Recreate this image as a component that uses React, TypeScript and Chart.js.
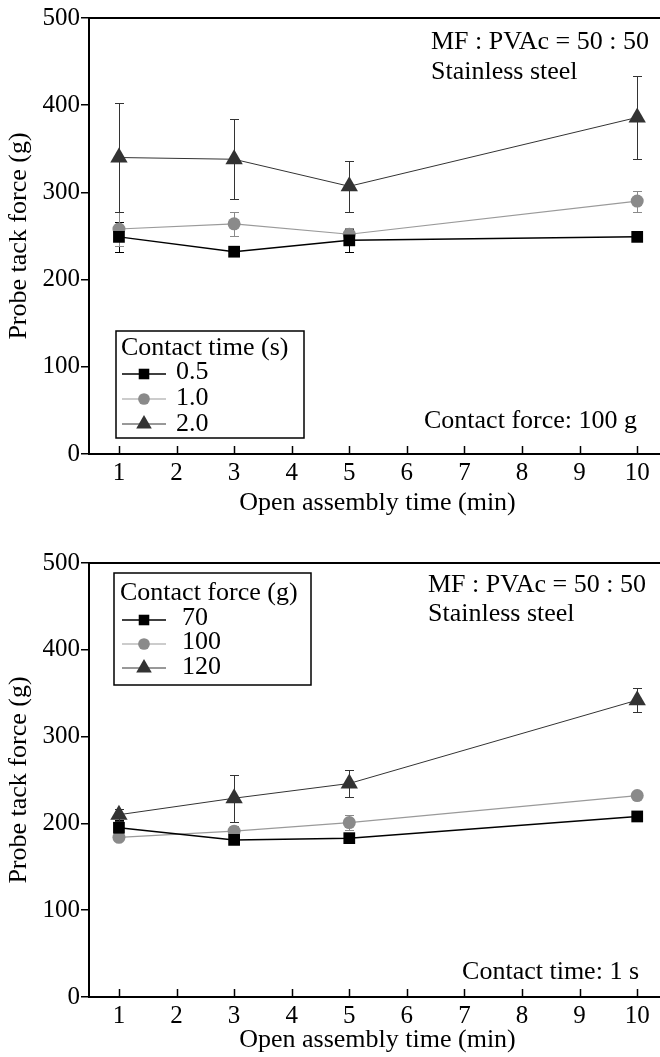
import React, { useEffect, useRef } from "react";
import { Chart, registerables } from "chart.js";

Chart.register(...registerables);

// ---------- data ----------
const openTime = [1, 3, 5, 10];
const xTicks = [1, 2, 3, 4, 5, 6, 7, 8, 9, 10];
const yTicks = [0, 100, 200, 300, 400, 500];

// Top panel: contact time series (contact force 100 g)
const ct05 = [249, 232, 245, 249];
const ct05Err = [17, 0, 13, 0];
const ct10 = [258, 264, 252, 290];
const ct10Err = [19, 14, 7, 12];
const ct20 = [340, 338, 307, 386];
const ct20Err = [63, 46, 29, 48];

// Bottom panel: contact force series (contact time 1 s)
const cf70 = [195, 181, 183, 208];
const cf70Err = [9, 3, 0, 0];
const cf100 = [184, 191, 201, 232];
const cf100Err = [3, 6, 9, 0];
const cf120 = [210, 229, 246, 342];
const cf120Err = [7, 27, 16, 14];

const topLabels = ["0.5", "1.0", "2.0"];
const bottomLabels = ["70", "100", "120"];

const FONT = "'Liberation Serif', 'Times New Roman', serif";

type Style = { color: string; line: string; lw: number; ps: string; r: number };
const styles: Style[] = [
  { color: "#000000", line: "#000000", lw: 1.5, ps: "rect", r: 8.3 },
  { color: "#8a8a8a", line: "#9a9a9a", lw: 1.2, ps: "circle", r: 6.5 },
  { color: "#333333", line: "#333333", lw: 1, ps: "triangle", r: 10 },
];

function drawMarker(ctx: CanvasRenderingContext2D, ps: string, x: number, y: number, r: number, color: string) {
  ctx.save();
  ctx.fillStyle = color;
  ctx.beginPath();
  if (ps === "rect") {
    const s = Math.SQRT1_2 * r;
    ctx.rect(x - s, y - s, 2 * s, 2 * s);
  } else if (ps === "circle") {
    ctx.arc(x, y, r, 0, Math.PI * 2);
  } else {
    const a = (2 * Math.PI) / 3;
    ctx.moveTo(x, y - r);
    ctx.lineTo(x + Math.sin(a) * r, y - Math.cos(a) * r);
    ctx.lineTo(x + Math.sin(2 * a) * r, y - Math.cos(2 * a) * r);
    ctx.closePath();
  }
  ctx.fill();
  ctx.restore();
}

const decorPlugin = {
  id: "decor",
  beforeDatasetsDraw(chart: any) {
    const ctx = chart.ctx as CanvasRenderingContext2D;
    const xs = chart.scales.x;
    const ys = chart.scales.y;
    chart.data.datasets.forEach((ds: any) => {
      const errs: number[] = ds.errors || [];
      ctx.save();
      ctx.strokeStyle = ds.errColor;
      ctx.lineWidth = 1;
      ds.data.forEach((p: any, i: number) => {
        const e = errs[i];
        if (!e) return;
        const px = Math.round(xs.getPixelForValue(p.x)) + 0.5;
        const yHi = Math.round(ys.getPixelForValue(p.y + e)) + 0.5;
        const yLo = Math.round(ys.getPixelForValue(p.y - e)) + 0.5;
        ctx.beginPath();
        ctx.moveTo(px, yHi);
        ctx.lineTo(px, yLo);
        ctx.moveTo(px - 4.5, yHi);
        ctx.lineTo(px + 4.5, yHi);
        ctx.moveTo(px - 4.5, yLo);
        ctx.lineTo(px + 4.5, yLo);
        ctx.stroke();
      });
      ctx.restore();
    });
  },
  afterDraw(chart: any, _a: any, opts: any) {
    const ctx = chart.ctx as CanvasRenderingContext2D;
    const area = chart.chartArea;
    const xs = chart.scales.x;
    ctx.save();
    // top frame line
    ctx.strokeStyle = "#000";
    ctx.lineWidth = 2;
    ctx.beginPath();
    ctx.moveTo(area.left - 1, area.top);
    ctx.lineTo(area.right + 1, area.top);
    ctx.stroke();
    // inward x ticks
    ctx.lineWidth = 1.5;
    ctx.beginPath();
    xTicks.forEach((v) => {
      const px = Math.round(xs.getPixelForValue(v)) + 0.5;
      ctx.moveTo(px, area.bottom);
      ctx.lineTo(px, area.bottom - 8);
    });
    ctx.stroke();
    // annotations
    ctx.fillStyle = "#000";
    ctx.font = `26px ${FONT}`;
    ctx.textBaseline = "middle";
    (opts.notes || []).forEach((n: any) => {
      ctx.textAlign = n.align;
      ctx.fillText(n.text, n.x, n.y);
    });
    // legend
    const lg = opts.legend;
    if (lg) {
      ctx.lineWidth = 1.5;
      ctx.strokeStyle = "#000";
      ctx.strokeRect(lg.x1, lg.y1, lg.x2 - lg.x1, lg.y2 - lg.y1);
      ctx.textAlign = "left";
      ctx.fillText(lg.title, lg.titleX, lg.titleY);
      chart.data.datasets.forEach((ds: any, i: number) => {
        const y = lg.itemY[i];
        ctx.save();
        ctx.strokeStyle = ds.borderColor;
        ctx.lineWidth = ds.borderWidth;
        ctx.beginPath();
        ctx.moveTo(lg.lineX1, y);
        ctx.lineTo(lg.lineX2, y);
        ctx.stroke();
        ctx.restore();
        drawMarker(ctx, ds.pointStyle, (lg.lineX1 + lg.lineX2) / 2, y, ds.pointRadius * 0.9, ds.pointBackgroundColor);
        ctx.fillStyle = "#000";
        ctx.fillText(ds.label, lg.textX, lg.textY[i]);
      });
    }
    ctx.restore();
  },
};

type PanelProps = {
  height: number;
  areaTop: number;
  areaBottom: number;
  series: number[][];
  errors: number[][];
  labels: string[];
  notes: any[];
  legend: any;
};

const CW = 676;

function Panel(p: PanelProps) {
  const ref = useRef<HTMLCanvasElement | null>(null);
  useEffect(() => {
    if (!ref.current) return;
    const datasets = p.series.map((vals, i) => {
      const s = styles[i];
      return {
        label: p.labels[i],
        data: vals.map((v, j) => ({ x: openTime[j], y: v })),
        errors: p.errors[i],
        errColor: s.color,
        borderColor: s.line,
        borderWidth: s.lw,
        pointStyle: s.ps,
        pointRadius: s.r,
        pointBackgroundColor: s.color,
        pointBorderColor: s.color,
        pointBorderWidth: 0,
        showLine: true,
        tension: 0,
      };
    });
    const padBottom = 1;
    const chart = new Chart(ref.current, {
      type: "scatter",
      data: { datasets } as any,
      plugins: [decorPlugin as any],
      options: {
        responsive: false,
        animation: false,
        devicePixelRatio: 1,
        layout: { padding: { left: 4, top: p.areaTop, right: 3, bottom: padBottom } },
        plugins: {
          legend: { display: false },
          tooltip: { enabled: false },
          decor: { notes: p.notes, legend: p.legend },
        } as any,
        scales: {
          x: {
            type: "linear",
            min: 0.48,
            max: 10.5,
            afterFit: (s: any) => {
              s.height = p.height - padBottom - p.areaBottom;
            },
            afterBuildTicks: (s: any) => {
              s.ticks = xTicks.map((v) => ({ value: v }));
            },
            grid: { display: false, drawTicks: false },
            border: { display: true, color: "#000", width: 2 },
            ticks: {
              padding: 4,
              color: "#000",
              font: { family: FONT, size: 25 },
              maxRotation: 0,
              autoSkip: false,
            },
            title: {
              display: true,
              text: "Open assembly time (min)",
              color: "#000",
              font: { family: FONT, size: 26 },
              padding: 0,
            },
          },
          y: {
            type: "linear",
            min: 0,
            max: 500,
            afterFit: (s: any) => {
              s.width = 85;
            },
            afterBuildTicks: (s: any) => {
              s.ticks = yTicks.map((v) => ({ value: v }));
            },
            grid: { display: true, drawOnChartArea: false, drawTicks: true, tickLength: 8, color: "#000", lineWidth: 1.5 },
            border: { display: true, color: "#000", width: 2 },
            ticks: {
              padding: 1,
              color: "#000",
              font: { family: FONT, size: 25 },
            },
            title: {
              display: true,
              text: "Probe tack force (g)",
              color: "#000",
              font: { family: FONT, size: 26 },
              padding: 0,
            },
          },
        },
      } as any,
    });
    return () => chart.destroy();
  }, []);
  return <canvas ref={ref} width={CW} height={p.height} style={{ display: "block" }} />;
}

export default function App() {
  return (
    <div
      style={{
        position: "absolute",
        left: 0,
        top: 0,
        width: 660,
        height: 1057,
        overflow: "hidden",
        background: "#fff",
      }}
    >
      <div style={{ position: "absolute", left: 0, top: 0, width: 660, height: 520, overflow: "hidden" }}>
        <Panel
          height={520}
          areaTop={18}
          areaBottom={454}
          series={[ct05, ct10, ct20]}
          errors={[ct05Err, ct10Err, ct20Err]}
          labels={topLabels}
          notes={[
            { text: "MF : PVAc = 50 : 50", x: 431, y: 42, align: "left" },
            { text: "Stainless steel", x: 431, y: 72, align: "left" },
            { text: "Contact force: 100 g", x: 637, y: 421, align: "right" },
          ]}
          legend={{
            x1: 116,
            y1: 331,
            x2: 304,
            y2: 438,
            title: "Contact time (s)",
            titleX: 121,
            titleY: 348,
            lineX1: 122,
            lineX2: 166,
            itemY: [374, 399, 424],
            textX: 176,
            textY: [372, 398, 424],
          }}
        />
      </div>
      <div style={{ position: "absolute", left: 0, top: 540, width: 660, height: 517, overflow: "hidden" }}>
        <Panel
          height={517}
          areaTop={23}
          areaBottom={457}
          series={[cf70, cf100, cf120]}
          errors={[cf70Err, cf100Err, cf120Err]}
          labels={bottomLabels}
          notes={[
            { text: "MF : PVAc = 50 : 50", x: 428, y: 45, align: "left" },
            { text: "Stainless steel", x: 428, y: 74, align: "left" },
            { text: "Contact time: 1 s", x: 639, y: 432, align: "right" },
          ]}
          legend={{
            x1: 114,
            y1: 573 - 540,
            x2: 311,
            y2: 685 - 540,
            title: "Contact force (g)",
            titleX: 120,
            titleY: 53,
            lineX1: 122,
            lineX2: 166,
            itemY: [80, 104, 128],
            textX: 182,
            textY: [78, 102, 127],
          }}
        />
      </div>
    </div>
  );
}
